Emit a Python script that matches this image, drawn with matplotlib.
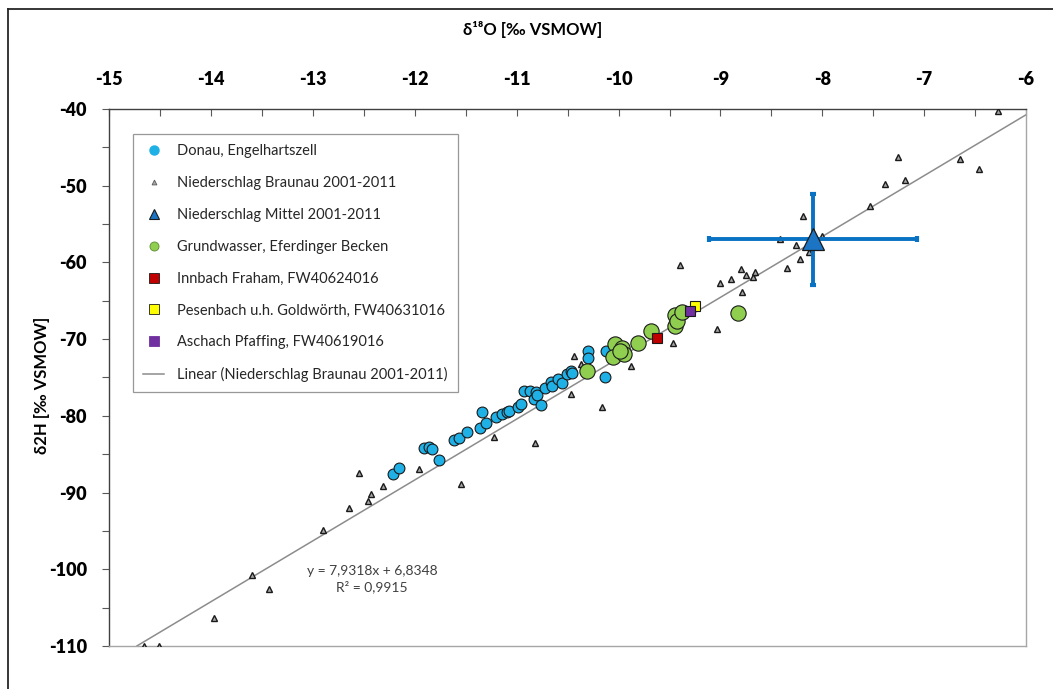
import matplotlib
matplotlib.use("Agg")
import matplotlib.pyplot as plt
from matplotlib.lines import Line2D
from matplotlib.ticker import MultipleLocator
import numpy as np

plt.rcParams['font.family'] = ['Lato', 'DejaVu Sans']

# Donau, Engelhartszell
donau_x = [-12.21, -12.16, -11.91, -11.86, -11.83, -11.76, -11.62, -11.57, -11.49, -11.34,
           -11.36, -11.30, -11.20, -11.14, -11.10, -11.08, -10.99, -10.96, -10.93, -10.87,
           -10.83, -10.81, -10.80, -10.76, -10.72, -10.66, -10.65, -10.59, -10.56, -10.51,
           -10.47, -10.46, -10.30, -10.30, -10.13, -10.12]
donau_y = [-87.6, -86.8, -84.2, -84.0, -84.3, -85.8, -83.2, -82.9, -82.1, -79.5,
           -81.6, -80.9, -80.1, -79.8, -79.5, -79.4, -78.9, -78.5, -76.7, -76.7,
           -77.8, -76.9, -77.3, -78.6, -76.4, -75.6, -76.1, -75.2, -75.7, -74.6,
           -74.1, -74.4, -71.6, -72.4, -74.9, -71.5]

# Niederschlag Braunau 2001-2011
braunau_x = [-14.66, -14.51, -13.97, -13.60, -13.43, -12.90, -12.65, -12.55, -12.46, -12.43,
             -12.31, -11.96, -11.55, -11.22, -10.82, -10.47, -10.44, -10.37, -10.16, -9.88,
             -9.47, -9.40, -9.03, -9.00, -8.90, -8.80, -8.79, -8.75, -8.68, -8.66,
             -8.42, -8.35, -8.26, -8.22, -8.19, -8.13, -8.00, -7.53, -7.38, -7.26,
             -7.19, -6.65, -6.46, -6.27]
braunau_y = [-110.0, -110.0, -106.3, -100.8, -102.6, -94.9, -92.0, -87.5, -91.1, -90.2,
             -89.2, -86.9, -88.9, -82.8, -83.6, -77.1, -72.2, -73.3, -78.8, -73.5,
             -70.5, -60.3, -68.7, -62.7, -62.1, -60.8, -63.9, -61.6, -61.9, -61.3,
             -56.9, -60.7, -57.7, -59.6, -54.0, -58.7, -56.6, -52.6, -49.8, -46.3,
             -49.2, -46.5, -47.8, -40.2]

# Niederschlag Mittel 2001-2011 (mit Standardabweichung)
mittel_x = [-8.09]
mittel_y = [-57.0]
mittel_xerr = [1.02]
mittel_yerr = [5.95]

# Grundwasser, Eferdinger Becken
gw_x = [-10.31, -10.04, -10.05, -9.97, -9.95, -9.99, -9.81, -9.68, -9.45, -9.45, -9.43, -9.38, -8.83]
gw_y = [-74.1, -70.6, -72.3, -71.1, -72.0, -71.5, -70.5, -68.9, -66.8, -68.3, -67.6, -66.4, -66.6]

innbach_x, innbach_y = [-9.62], [-69.9]
pesenbach_x, pesenbach_y = [-9.25], [-65.7]
aschach_x, aschach_y = [-9.30], [-66.3]

# lineare Regression Niederschlag Braunau (Excel-Trendlinie)
slope, intercept, r2 = 7.9318, 6.8348, 0.9915

fig = plt.figure(figsize=(10.53, 6.89), dpi=100)
ax = fig.add_axes([109.3 / 1053, 1 - 646 / 689, (1026 - 109.3) / 1053, (646 - 109) / 689])

ax.set_xlim(-15, -6)
ax.set_ylim(-110, -40)

# trend line
x0 = (-110 - intercept) / slope
xs = np.array([x0, -6])
ax.plot(xs, slope * xs + intercept, color='#8c8c8c', lw=1.1, zorder=2)

ax.plot(donau_x, donau_y, 'o', ms=7.8, mfc='#1fb0e6', mec='#1a1a1a', mew=0.8, zorder=3)
ax.plot(braunau_x, braunau_y, '^', ms=4.2, mfc='#a6a6a6', mec='#1a1a1a', mew=1.0, zorder=4)
ax.errorbar(mittel_x, mittel_y, xerr=mittel_xerr, yerr=mittel_yerr, fmt='none',
            ecolor='#0a72c2', elinewidth=2.8, capsize=2.2, capthick=3, zorder=5)
ax.plot(mittel_x, mittel_y, '^', ms=16.5, mfc='#1b75c4', mec='#1a1a1a', mew=0.9, zorder=6)
ax.plot(gw_x, gw_y, 'o', ms=11, mfc='#8fce4f', mec='#1a1a1a', mew=0.8, zorder=7)
ax.plot(innbach_x, innbach_y, 's', ms=7.8, mfc='#c00000', mec='#1a1a1a', mew=0.8, zorder=8)
ax.plot(pesenbach_x, pesenbach_y, 's', ms=7.8, mfc='#ffff00', mec='#1a1a1a', mew=0.8, zorder=8)
ax.plot(aschach_x, aschach_y, 's', ms=7.8, mfc='#7030a0', mec='#1a1a1a', mew=0.8, zorder=9)

ax.text(-12.42, -101.3, 'y = 7,9318x + 6,8348\nR² = 0,9915', ha='center', va='center',
        fontsize=10, color='#404040', linespacing=1.25)

# axes look (Excel style: x axis on top)
ax.xaxis.tick_top()
ax.xaxis.set_major_locator(MultipleLocator(1))
ax.xaxis.set_minor_locator(MultipleLocator(0.5))
ax.yaxis.set_major_locator(MultipleLocator(10))
ax.yaxis.set_minor_locator(MultipleLocator(5))
ax.tick_params(axis='x', which='both', direction='in', length=5, width=0.8, color='#595959',
               pad=15, labelsize=13, top=True, bottom=False)
ax.tick_params(axis='y', which='both', direction='out', length=5, width=0.8, color='#595959',
               pad=11, labelsize=13, right=False)
for lbl in ax.get_xticklabels() + ax.get_yticklabels():
    lbl.set_fontweight('heavy')
ax.xaxis.set_major_formatter(plt.FuncFormatter(lambda v, p: f'{v:.0f}'))
ax.yaxis.set_major_formatter(plt.FuncFormatter(lambda v, p: f'{v:.0f}'))
ax.spines['top'].set_color('#404040')
ax.spines['left'].set_color('#404040')
ax.spines['right'].set_color('#a6a6a6')
ax.spines['bottom'].set_color('#a6a6a6')
for s in ax.spines.values():
    s.set_linewidth(1.0)

fig.text(533 / 1053, 1 - 29 / 689, 'δ\u00b9\u2078O [‰ VSMOW]', ha='center', va='center',
         fontsize=12, fontweight='bold')
fig.text(42 / 1053, 1 - 385 / 689, 'δ2H [‰ VSMOW]', ha='center', va='center',
         rotation=90, fontsize=12, fontweight='bold')

handles = [
    Line2D([], [], ls='none', marker='o', ms=6.5, mfc='#1fb0e6', mec='#1fb0e6'),
    Line2D([], [], ls='none', marker='^', ms=3.5, mfc='#a6a6a6', mec='#595959', mew=0.6),
    Line2D([], [], ls='none', marker='^', ms=7.5, mfc='#1b75c4', mec='#1a1a1a', mew=0.8),
    Line2D([], [], ls='none', marker='o', ms=6.5, mfc='#8fce4f', mec='#5a8a30', mew=0.6),
    Line2D([], [], ls='none', marker='s', ms=6.5, mfc='#c00000', mec='#1a1a1a', mew=0.6),
    Line2D([], [], ls='none', marker='s', ms=6.5, mfc='#ffff00', mec='#1a1a1a', mew=0.6),
    Line2D([], [], ls='none', marker='s', ms=6.5, mfc='#7030a0', mec='#7030a0', mew=0.6),
    Line2D([], [], color='#8c8c8c', lw=1.1),
]
labels = [
    'Donau, Engelhartszell',
    'Niederschlag Braunau 2001-2011',
    'Niederschlag Mittel 2001-2011',
    'Grundwasser, Eferdinger Becken',
    'Innbach Fraham, FW40624016',
    'Pesenbach u.h. Goldwörth, FW40631016',
    'Aschach Pfaffing, FW40619016',
    'Linear (Niederschlag Braunau 2001-2011)',
]
leg = ax.legend(handles, labels, loc='upper left', bbox_to_anchor=(0.026, 0.953),
                fontsize=10.5, frameon=True, fancybox=False, edgecolor='#7f7f7f',
                labelspacing=1.22, handlelength=1.4, handletextpad=0.9, borderpad=0.7,
                borderaxespad=0)
leg.get_frame().set_linewidth(0.9)
for t in leg.get_texts():
    t.set_color('#262626')

# outer chart border (top and left visible in the crop)
fig.add_artist(Line2D([8 / 1053, 1], [1 - 9 / 689, 1 - 9 / 689], color='#262626', lw=1.3,
                      transform=fig.transFigure))
fig.add_artist(Line2D([8 / 1053, 8 / 1053], [0, 1 - 9 / 689], color='#262626', lw=1.3,
                      transform=fig.transFigure))

fig.savefig('out.png', dpi=100)
